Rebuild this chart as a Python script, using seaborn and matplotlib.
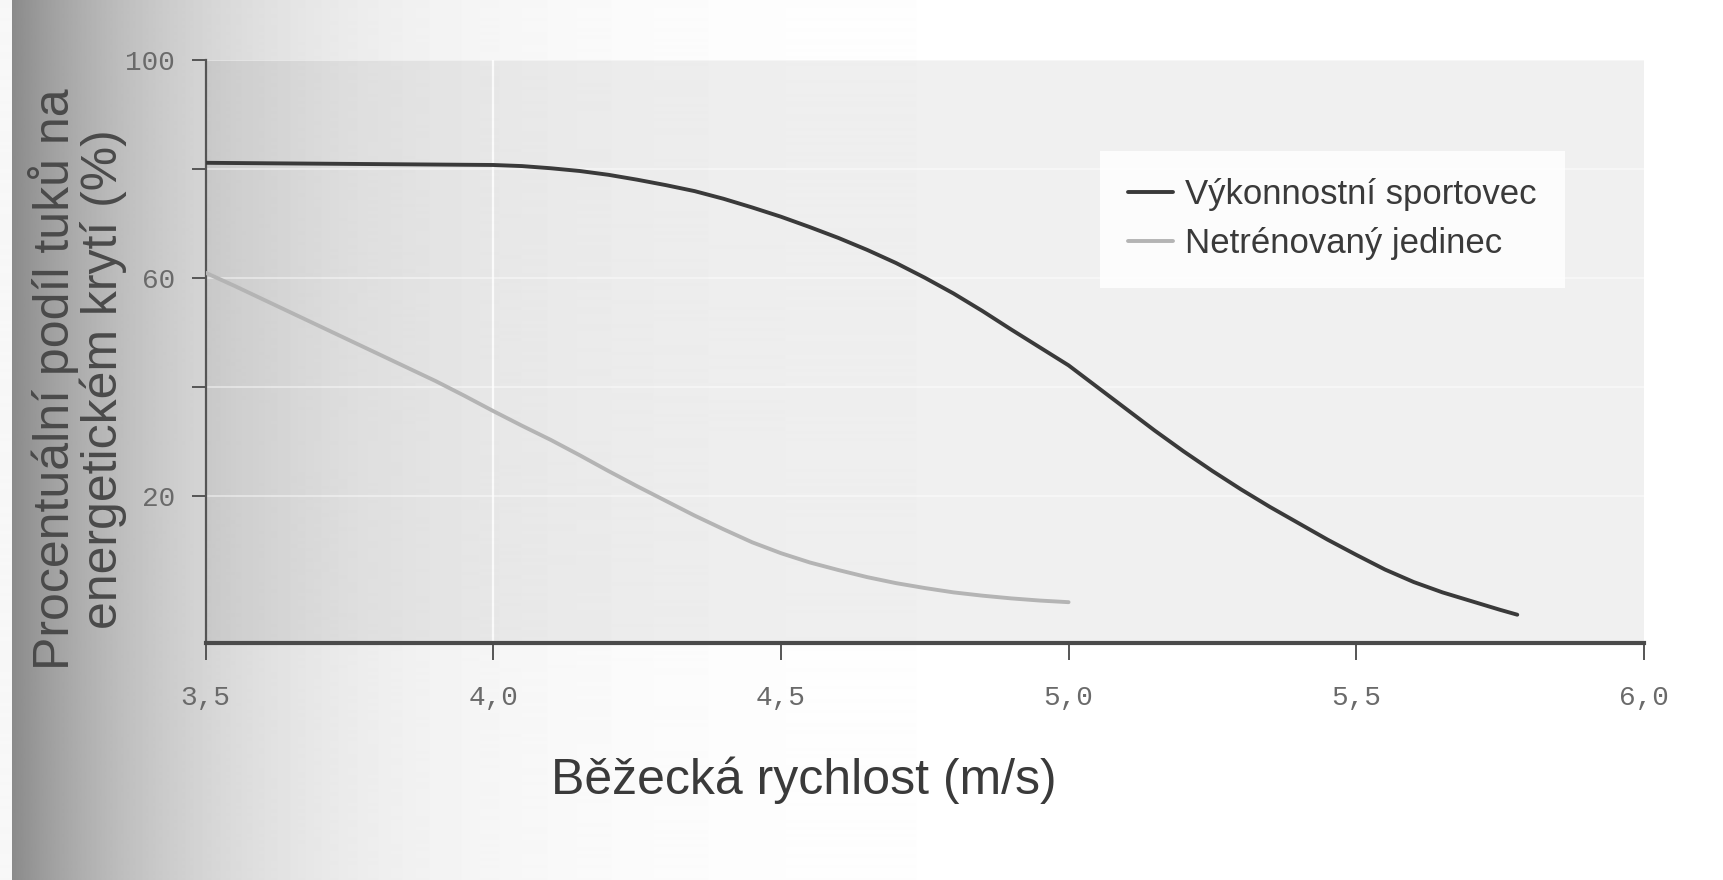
import numpy as np
import pandas as pd
import matplotlib.pyplot as plt
import seaborn as sns

# hodnoty
rychlost_sport = [3.5, 3.75, 4.0, 4.05, 4.1, 4.15, 4.2, 4.25, 4.3, 4.35, 4.4, 4.45,
                  4.5, 4.55, 4.6, 4.65, 4.7, 4.75, 4.8, 4.85, 4.9, 4.95, 5.0,
                  5.05, 5.1, 5.15, 5.2, 5.25, 5.3, 5.35, 5.4, 5.45, 5.5, 5.55,
                  5.6, 5.65, 5.7, 5.75, 5.78]
podil_sport = [81.2, 81.0, 80.8, 80.6, 80.2, 79.7, 79.0, 78.1, 77.1, 76.0, 74.6, 73.0,
               71.3, 69.4, 67.4, 65.2, 62.8, 60.1, 57.2, 54.0, 50.6, 47.3, 44.0,
               40.0, 36.0, 32.0, 28.2, 24.6, 21.2, 18.0, 15.0, 12.0, 9.2, 6.5,
               4.2, 2.3, 0.7, -0.9, -1.8]
rychlost_netren = [3.5, 3.55, 3.6, 3.65, 3.7, 3.75, 3.8, 3.85, 3.9, 3.95, 4.0,
                   4.05, 4.1, 4.15, 4.2, 4.25, 4.3, 4.35, 4.4, 4.45, 4.5,
                   4.55, 4.6, 4.65, 4.7, 4.75, 4.8, 4.85, 4.9, 4.95, 5.0]
podil_netren = [61.0, 58.6, 56.1, 53.6, 51.1, 48.6, 46.1, 43.6, 41.1, 38.4, 35.6,
                32.9, 30.3, 27.5, 24.6, 21.8, 19.1, 16.4, 13.9, 11.5, 9.5,
                7.8, 6.4, 5.1, 4.0, 3.1, 2.3, 1.7, 1.2, 0.8, 0.5]
skupiny = ["Výkonnostní sportovec", "Netrénovaný jedinec"]
barvy = ["#3a3a3a", "#b4b4b4"]
xticks = [3.5, 4.0, 4.5, 5.0, 5.5, 6.0]
yticks = [20, 40, 60, 80, 100]
ytick_labels = ["20", "", "60", "", "100"]

df = pd.concat([
    pd.DataFrame({"rychlost": rychlost_sport, "podil": podil_sport, "skupina": skupiny[0]}),
    pd.DataFrame({"rychlost": rychlost_netren, "podil": podil_netren, "skupina": skupiny[1]}),
])

sns.set_theme(style="ticks")
plt.rcParams['font.family'] = ['Liberation Sans', 'DejaVu Sans']

fig = plt.figure(figsize=(17.24, 8.8), dpi=100)

# stín skenu na levé straně stránky
bg = fig.add_axes([0, 0, 1, 1], zorder=-10)
bg.axis('off')
xs = np.arange(1724)
shade = 1 - 0.45*np.exp(-(xs-15)/190.0)
shade[xs < 12] = 0.97
grad = np.tile(np.clip(shade, 0, 1), (880, 1))
bg.imshow(grad, cmap='gray', vmin=0, vmax=1, aspect='auto', extent=[0, 1, 0, 1])
bg.set_xlim(0, 1)
bg.set_ylim(0, 1)

ax = fig.add_axes([0.1193, 0.2693, 0.8342, 0.662])
ax.set_facecolor((0, 0, 0, 0.06))

sns.lineplot(data=df, x="rychlost", y="podil", hue="skupina", hue_order=skupiny,
             palette=barvy, linewidth=2.8, ax=ax, zorder=3)
for ln in ax.lines:
    ln.set_solid_joinstyle('round')
    ln.set_solid_capstyle('round')

ax.set_xlim(3.5, 6.0)
ax.set_ylim(-7, 100)
ax.set_xticks(xticks)
ax.set_xticklabels([f"{v:.1f}".replace('.', ',') for v in xticks])
ax.set_yticks(yticks)
ax.set_yticklabels(ytick_labels)
for lab in ax.get_xticklabels() + ax.get_yticklabels():
    lab.set_family(['Liberation Mono', 'DejaVu Sans Mono'])
    lab.set_fontsize(20)
    lab.set_color('#6a6a6a')

ax.grid(axis='y', color='white', lw=1.2, alpha=0.5)
ax.axvline(4.0, color='white', lw=1.6, alpha=0.8, zorder=1)

sns.despine(ax=ax)
ax.spines['bottom'].set_linewidth(3)
ax.spines['bottom'].set_color('#4a4a4a')
ax.spines['left'].set_linewidth(1.6)
ax.spines['left'].set_color('#555555')
ax.tick_params(axis='y', length=10, width=1.4, color='#555555', pad=12)
ax.tick_params(axis='x', length=12, width=1.4, color='#555555', pad=18)

ax.set_xlabel("Běžecká rychlost (m/s)", fontsize=36, color='#3a3a3a', va='center')
ax.xaxis.set_label_coords(0.416, -0.235)
ax.set_ylabel("Procentuální podíl tuků na\nenergetickém krytí (%)", fontsize=36,
              color='#4a4a4a', va='center', ha='center', linespacing=1.03)
ax.yaxis.set_label_coords(-0.089, 0.453)

handles, labels = ax.get_legend_handles_labels()
leg = ax.legend(handles, labels, loc='upper left', bbox_to_anchor=(0.61, 0.875),
                fontsize=25, frameon=True, facecolor='white', edgecolor='none',
                framealpha=0.85, handlelength=1.3, handletextpad=0.35,
                labelspacing=0.45, borderpad=0.8, fancybox=False)
for t in leg.get_texts():
    t.set_color('#3a3a3a')

fig.savefig("out.png", dpi=100)
